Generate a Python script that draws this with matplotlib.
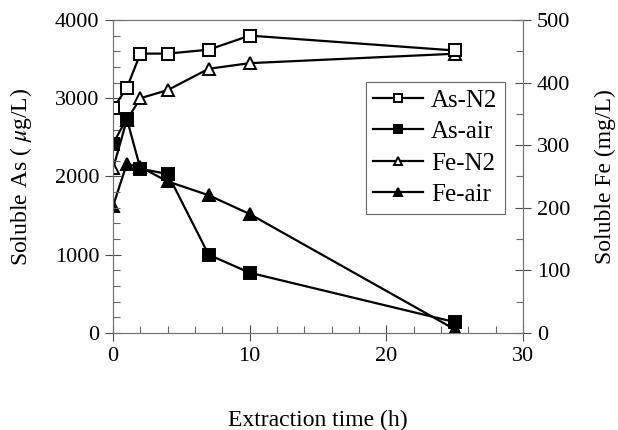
import matplotlib.pyplot as plt
from matplotlib.ticker import MultipleLocator

plt.rcParams['font.family'] = ['Liberation Serif', 'DejaVu Serif']
plt.rcParams['mathtext.fontset'] = 'stix'

# extraction time (h)
t = [0, 1, 2, 4, 7, 10, 25]
# soluble As (ug/L)
as_n2 = [2870, 3130, 3570, 3570, 3620, 3800, 3610]
as_air = [2420, 2740, 2100, 2030, 1000, 770, 140]
# soluble Fe (mg/L)
fe_n2 = [263, 340, 375, 388, 422, 431, 446]
fe_air = [203, 270, 265, 242, 220, 190, 6]

fig = plt.figure(figsize=(6.18, 4.30), dpi=100)
ax = fig.add_axes([0.183, 0.2256, 0.663, 0.728])
ax2 = ax.twinx()
# As markers sit on top of the Fe ones
ax.set_zorder(ax2.get_zorder() + 1)
ax.patch.set_visible(False)

kw = dict(color='black', lw=1.6, ms=9, mew=1.4)
h1, = ax.plot(t, as_n2, marker='s', mfc='white', label='As-N2', **kw)
h2, = ax.plot(t, as_air, marker='s', mfc='black', label='As-air', **kw)
h3, = ax2.plot(t, fe_n2, marker='^', mfc='white', label='Fe-N2', **kw)
h4, = ax2.plot(t, fe_air, marker='^', mfc='black', label='Fe-air', **kw)

ax.set_xlim(0, 30)
ax.set_ylim(0, 4000)
ax2.set_ylim(0, 500)

ax.xaxis.set_major_locator(MultipleLocator(10))
ax.xaxis.set_minor_locator(MultipleLocator(2))
ax.yaxis.set_major_locator(MultipleLocator(1000))
ax.yaxis.set_minor_locator(MultipleLocator(200))
ax2.yaxis.set_major_locator(MultipleLocator(100))
ax2.yaxis.set_minor_locator(MultipleLocator(50))

for a in (ax, ax2):
    for s in a.spines.values():
        s.set_color('0.45')
        s.set_linewidth(0.8)
    a.tick_params(which='major', direction='inout', length=12, width=0.8,
                  color='0.3', labelsize=16, pad=4)
    a.tick_params(which='minor', direction='in', length=5, width=0.8, color='0.4')
ax.tick_params(axis='y', which='both', right=False)
ax.tick_params(axis='x', which='both', top=False)

ax.set_xlabel('Extraction time (h)', fontsize=17, labelpad=32)
ax.set_ylabel('Soluble As ( $\\mu$g/L)', fontsize=17, labelpad=15)
ax2.set_ylabel('Soluble Fe (mg/L)', fontsize=17, labelpad=18)

leg = fig.legend([h1, h2, h3, h4], ['As-N2', 'As-air', 'Fe-N2', 'Fe-air'],
                 loc='upper left', bbox_to_anchor=(0.592, 0.81),
                 fontsize=18, markerscale=0.6, handlelength=2.0,
                 handletextpad=0.3, labelspacing=0.36, borderpad=0.3,
                 fancybox=False, framealpha=1, borderaxespad=0)
leg.get_frame().set_edgecolor('0.4')
leg.get_frame().set_linewidth(0.8)

fig.savefig('out.png', dpi=100)
